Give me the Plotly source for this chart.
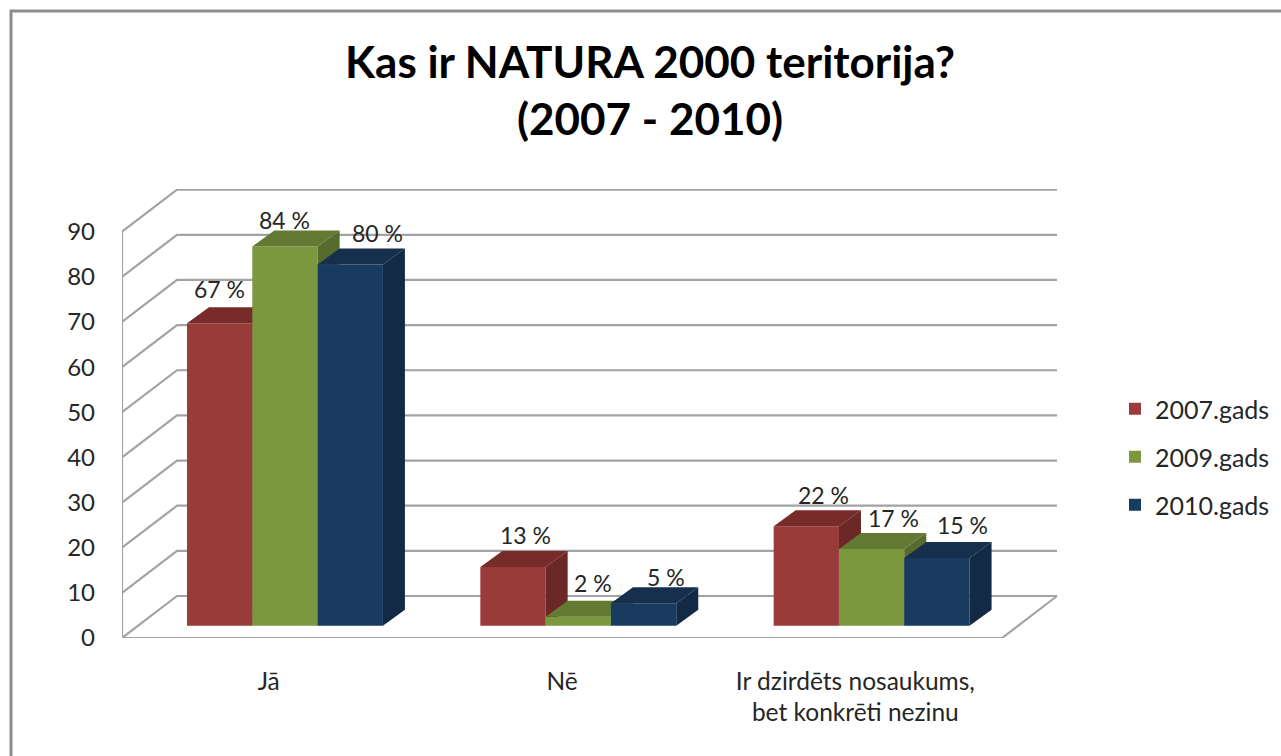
import plotly.graph_objects as go

categories = ["Jā", "Nē", "Ir dzirdēts nosaukums,<br>bet konkrēti nezinu"]
years = ["2007.gads", "2009.gads", "2010.gads"]
values_2007 = [67, 13, 22]
values_2009 = [84, 2, 17]
values_2010 = [80, 5, 15]
series = [values_2007, values_2009, values_2010]
y_ticks = [0, 10, 20, 30, 40, 50, 60, 70, 80, 90]

front = ["#983B39", "#7C983F", "#1A3B60"]
top = ["#772C2A", "#637A33", "#152F4D"]
side = ["#6C2826", "#566B2D", "#122A45"]
GRID = "#A3A3A3"
TEXT = "#262626"
FONT = "Lato"

# label nudges in pixels (right, up), per series and category
label_dx = [[0, 12, 17], [0, 15, 22], [27, 22, 26]]
label_dy = [[34, 32, 31], [26, 34, 31], [32, 26, 33]]

# pixel layout: the plot area runs to the page edge so the legend sits inside it
W, H = 1281, 756
PL, PR, PT, PB = 122, W, 189, 638
WALL_RIGHT = 1057
CAT_PX = 293.33
UNIT_PX = 4.515
x_max = (PR - PL) / CAT_PX
x_back = (WALL_RIGHT - PL) / CAT_PX
y_max = (PB - PT) / UNIT_PX
wall_dx = 55 / CAT_PX
wall_dy = 42 / UNIT_PX
bar_w = 65.3 / CAT_PX
bar_shift = 16.3 / CAT_PX
lift = 12.3 / UNIT_PX
bar_dx = 22 / CAT_PX
bar_dy = 16 / UNIT_PX
front_w = x_back - wall_dx

fig = go.Figure()

# walls and floor on the main axes
gx, gy = [], []
for v in y_ticks:
    gx += [0, wall_dx, x_back, None]
    gy += [v, v + wall_dy, v + wall_dy, None]
gx += [0, 0, None, 0, front_w, x_back]
gy += [y_ticks[-1], 0, None, 0, 0, wall_dy]
fig.add_trace(go.Scatter(x=gx, y=gy, mode="lines", line=dict(color=GRID, width=2.2),
                         hoverinfo="skip", showlegend=False))

annotations = []
for j, vals in enumerate(series):
    ax = str(j + 2)
    xs = [i + 0.5 + bar_shift + (j - 1) * bar_w for i in range(len(vals))]
    fig.add_trace(go.Bar(x=xs, y=vals, base=lift, width=bar_w, name=years[j],
                         marker=dict(color=front[j], line=dict(width=0)),
                         legendgroup=years[j], xaxis="x" + ax, yaxis="y" + ax))
    tx, ty, sx, sy = [], [], [], []
    for xc, v in zip(xs, vals):
        l, r = xc - bar_w / 2, xc + bar_w / 2
        t = lift + v
        tx += [l, r, r + bar_dx, l + bar_dx, l, None]
        ty += [t, t, t + bar_dy, t + bar_dy, t, None]
        sx += [r, r + bar_dx, r + bar_dx, r, r, None]
        sy += [lift, lift + bar_dy, t + bar_dy, t, lift, None]
    fig.add_trace(go.Scatter(x=tx, y=ty, mode="none", fill="toself", fillcolor=top[j],
                             hoverinfo="skip", showlegend=False, xaxis="x" + ax, yaxis="y" + ax))
    fig.add_trace(go.Scatter(x=sx, y=sy, mode="none", fill="toself", fillcolor=side[j],
                             hoverinfo="skip", showlegend=False, xaxis="x" + ax, yaxis="y" + ax))
    for i, (xc, v) in enumerate(zip(xs, vals)):
        annotations.append(dict(x=xc, y=lift + v, xref="x", yref="y", text=f"{v} %",
                                showarrow=False, xshift=label_dx[j][i], yshift=label_dy[j][i],
                                xanchor="center", yanchor="middle",
                                font=dict(family=FONT, size=23, color=TEXT)))

layout = dict(
    width=W, height=H,
    margin=dict(l=PL, r=0, t=PT, b=H - PB, pad=0),
    paper_bgcolor="white", plot_bgcolor="rgba(0,0,0,0)",
    barmode="overlay", hovermode=False,
    font=dict(family=FONT, color=TEXT),
    title=dict(text="Kas ir NATURA 2000 teritorija?<br>(2007 - 2010)",
               font=dict(family=FONT, size=44, color="#000000", weight="bold"),
               x=650 / W, xref="container", xanchor="center",
               y=1 - 77.5 / H, yref="container", yanchor="top"),
    xaxis=dict(range=[0, x_max], tickvals=[0.5, 1.5, 2.5], ticktext=categories,
               showgrid=False, zeroline=False, showline=False, ticks="",
               tickfont=dict(family=FONT, size=24.5, color=TEXT), ticklabelstandoff=26),
    yaxis=dict(range=[0, y_max], tickvals=y_ticks, showgrid=False, zeroline=False,
               showline=False, ticks="",
               tickfont=dict(family=FONT, size=24, color=TEXT), ticklabelstandoff=26),
    legend=dict(x=(1115 - PL) / (PR - PL), xanchor="left", y=(PB - 386) / (PB - PT), yanchor="top",
                font=dict(family=FONT, size=25, color=TEXT), tracegroupgap=12.5,
                bgcolor="rgba(0,0,0,0)"),
    annotations=annotations,
    shapes=[dict(type="path", xref="paper", yref="paper",
                 path=f"M{(11 - PL) / (PR - PL)},{(PB - H) / (PB - PT)} "
                      f"L{(11 - PL) / (PR - PL)},{(PB - 11) / (PB - PT)} "
                      f"L{(W - PL) / (PR - PL)},{(PB - 11) / (PB - PT)}",
                 line=dict(color="#8C8C8C", width=3))],
)
for k in ("2", "3", "4"):
    layout["xaxis" + k] = dict(overlaying="x", range=[0, x_max], visible=False)
    layout["yaxis" + k] = dict(overlaying="y", range=[0, y_max], visible=False)
fig.update_layout(**layout)

fig.write_html("out.html", post_script="document.body.style.margin='0';",
               config=dict(displayModeBar=False))
